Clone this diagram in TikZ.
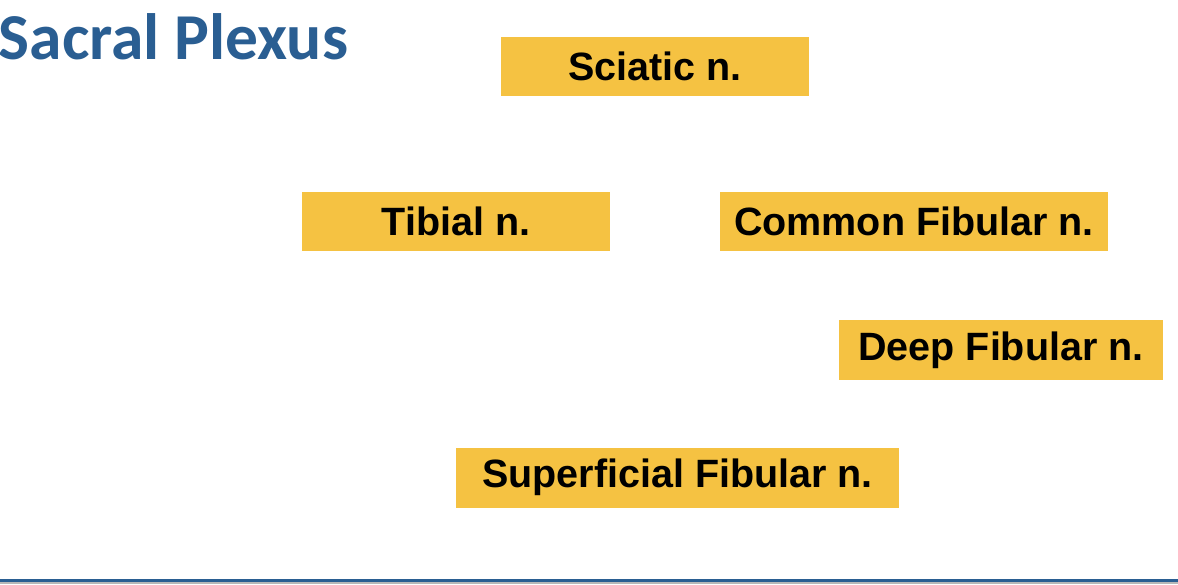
\documentclass[tikz,border=0pt]{standalone}
\usepackage{fontspec}
\setmainfont{Liberation Sans}
\newfontfamily\titlefont{Carlito}
\definecolor{nerveyellow}{HTML}{F5C242}
\definecolor{titleblue}{HTML}{2A5E92}
\definecolor{rulegrey}{HTML}{B8B8B8}

\begin{document}
\begin{tikzpicture}[x=1pt,y=-1pt,
  nerve/.style={rectangle, fill=nerveyellow, inner sep=0pt, minimum height=59pt,
                font=\fontsize{39.5}{41}\selectfont\bfseries}]

\useasboundingbox (0,0) rectangle (1178,584);

\node[anchor=base west, inner sep=0pt, text=titleblue,
      font=\titlefont\fontsize{65.5}{68}\selectfont\bfseries] (title) at (-1.5,59.5) {Sacral Plexus};

\draw (655,66.5) node[nerve, minimum width=308pt] (sciatic) {Sciatic n.}
      (456,221.5) node[nerve, minimum width=308pt] (tibial) {Tibial n.}
      (914,221.5) node[nerve, minimum width=388pt] (commonfib) {Common Fibular n.}
      (1001,350) node[nerve, minimum width=324pt, minimum height=60pt] (deepfib) {Deep Fibular n.}
      (677.5,477.5) node[nerve, minimum width=443pt, minimum height=60pt] (supfib) {Superficial Fibular n.};

\fill[titleblue] (0,578.5) rectangle (1178,581.5);
\fill[rulegrey] (0,581.5) rectangle (1178,584);
\end{tikzpicture}
\end{document}
